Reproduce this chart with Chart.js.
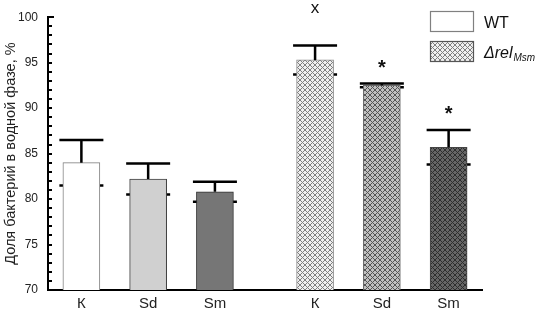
<!DOCTYPE html>
<html>
<head>
<meta charset="utf-8">
<script src="https://cdn.jsdelivr.net/npm/chart.js@4/dist/chart.umd.min.js"></script>
<style>
  html, body { margin: 0; padding: 0; background: #fff; }
  #wrap { width: 544px; height: 325px; }
</style>
</head>
<body>
<div id="wrap"><canvas id="c" width="544" height="325"></canvas></div>
<script>
// ---- data ----
const categories = ['К', 'Sd', 'Sm'];
const seriesNames = ['WT', 'ΔrelMsm'];
const wtValues = [84.0, 82.2, 80.8];
const wtErrors = [2.5, 1.7, 1.1];
const mutValues = [95.3, 92.5, 85.7];
const mutErrors = [1.6, 0.2, 1.9];
const mutMarks = ['x', '*', '*'];
const yTicks = [70, 75, 80, 85, 90, 95, 100];

// ---- layout helpers (slots on a category axis) ----
const SLOTS = 14;
const slotOf = (g, c) => 1 + c * 2 + g * 7;
const labels = new Array(SLOTS).fill('');
categories.forEach((c, i) => { labels[slotOf(0, i)] = c; labels[slotOf(1, i)] = c; });
function spread(g, arr) {
  const out = new Array(SLOTS).fill(null);
  arr.forEach((v, i) => { out[slotOf(g, i)] = v; });
  return out;
}

// ---- patterns ----
function hatch(bg, fg) {
  const s = 5;
  const cv = document.createElement('canvas');
  cv.width = s; cv.height = s;
  const x = cv.getContext('2d');
  x.fillStyle = bg; x.fillRect(0, 0, s, s);
  x.strokeStyle = fg; x.lineWidth = 1;
  x.beginPath();
  x.moveTo(0, 0); x.lineTo(s, s);
  x.moveTo(0, s); x.lineTo(s, 0);
  x.stroke();
  return x.createPattern(cv, 'repeat');
}
const ctx0 = document.getElementById('c').getContext('2d');
const wtFill = ['#ffffff', '#d0d0d0', '#767676'];
const wtBorder = ['#808080', '#404040', '#303030'];
const mutFill = [hatch('#f0f0f0', '#808080'), hatch('#c0c0c0', '#555555'), hatch('#666666', '#2e2e2e')];

function perSlot(g, arr) {
  const out = new Array(SLOTS).fill('rgba(0,0,0,0)');
  arr.forEach((v, i) => { out[slotOf(g, i)] = v; });
  return out;
}

const FONT = "'Liberation Sans', Arial, sans-serif";

// ---- plugins ----
const errorBars = {
  id: 'errorBars',
  drawPart(chart, upper) {
    const ctx = chart.ctx;
    const y = chart.scales.y;
    const sets = [[wtValues, wtErrors], [mutValues, mutErrors]];
    ctx.save();
    ctx.strokeStyle = '#000';
    ctx.lineWidth = 2.5;
    sets.forEach(([vals, errs], g) => {
      const meta = chart.getDatasetMeta(g);
      vals.forEach((v, i) => {
        const el = meta.data[slotOf(g, i)];
        if (!el) return;
        const x = el.x;
        const half = 22;
        if (upper) {
          const yt = y.getPixelForValue(v + errs[i]);
          const yb = y.getPixelForValue(v);
          ctx.beginPath();
          ctx.moveTo(x, yb); ctx.lineTo(x, yt);
          ctx.moveTo(x - half, yt); ctx.lineTo(x + half, yt);
          ctx.stroke();
        } else {
          const yl = y.getPixelForValue(v - errs[i]);
          ctx.beginPath();
          ctx.moveTo(x - half, yl); ctx.lineTo(x + half, yl);
          ctx.stroke();
        }
      });
    });
    ctx.restore();
  },
  beforeDatasetsDraw(chart) { this.drawPart(chart, false); },
  afterDatasetsDraw(chart) {
    this.drawPart(chart, true);
    // significance marks
    const ctx = chart.ctx;
    const y = chart.scales.y;
    const meta = chart.getDatasetMeta(1);
    ctx.save();
    ctx.fillStyle = '#111';
    ctx.textAlign = 'center';
    ctx.textBaseline = 'middle';
    mutMarks.forEach((m, i) => {
      const el = meta.data[slotOf(1, i)];
      const yt = y.getPixelForValue(mutValues[i] + mutErrors[i]);
      if (m === 'x') {
        ctx.font = '17px ' + FONT;
        ctx.fillText(m, el.x, yt - 37);
      } else {
        ctx.font = 'bold 20px ' + FONT;
        ctx.fillText(m, el.x, yt - 15);
      }
    });
    ctx.restore();
  }
};

const yMinorTicks = {
  id: 'yMinorTicks',
  afterDraw(chart) {
    const ctx = chart.ctx;
    const y = chart.scales.y;
    const left = chart.chartArea.left;
    ctx.save();
    ctx.strokeStyle = '#000';
    ctx.lineWidth = 2;
    for (let v = y.min; v <= y.max; v += 1) {
      const py = Math.round(y.getPixelForValue(v));
      ctx.beginPath();
      ctx.moveTo(left, py);
      ctx.lineTo(left + (v === y.max ? 6 : 4), py);
      ctx.stroke();
    }
    ctx.restore();
  }
};

const customLegend = {
  id: 'customLegend',
  afterDraw(chart) {
    const ctx = chart.ctx;
    ctx.save();
    ctx.fillStyle = '#fff';
    ctx.fillRect(430, 11, 44, 21);
    ctx.strokeStyle = '#808080';
    ctx.lineWidth = 1.2;
    ctx.strokeRect(430.5, 11.5, 43, 20);
    ctx.fillStyle = mutFill[0];
    ctx.fillRect(430, 41, 44, 21);
    ctx.strokeStyle = '#555';
    ctx.strokeRect(430.5, 41.5, 43, 20);
    ctx.fillStyle = '#111';
    ctx.textBaseline = 'alphabetic';
    ctx.textAlign = 'left';
    ctx.font = '16px ' + FONT;
    ctx.fillText(seriesNames[0], 484, 28);
    ctx.font = 'italic 16px ' + FONT;
    const main = seriesNames[1].slice(0, 4);
    const sub = seriesNames[1].slice(4);
    ctx.fillText(main, 484, 58);
    const w = ctx.measureText(main).width;
    ctx.font = 'italic 10px ' + FONT;
    ctx.fillText(sub, 484 + w + 1, 61);
    ctx.restore();
  }
};

new Chart(ctx0, {
  type: 'bar',
  data: {
    labels: labels,
    datasets: [
      {
        label: seriesNames[0],
        data: spread(0, wtValues),
        backgroundColor: perSlot(0, wtFill),
        borderColor: perSlot(0, wtBorder),
        borderWidth: 1,
      },
      {
        label: seriesNames[1],
        data: spread(1, mutValues),
        backgroundColor: perSlot(1, mutFill),
        borderColor: perSlot(1, ['#8a8a8a', '#6a6a6a', '#444444']),
        borderWidth: 1,
      }
    ]
  },
  options: {
    responsive: false,
    animation: false,
    devicePixelRatio: 1,
    layout: { padding: { top: 17, right: 62, left: 2, bottom: 0 } },
    datasets: { bar: { grouped: false, barThickness: 37 } },
    plugins: { legend: { display: false }, tooltip: { enabled: false } },
    scales: {
      x: {
        type: 'category',
        offset: false,
        grid: { display: false, drawTicks: false },
        border: { display: true, color: '#000', width: 2 },
        ticks: {
          autoSkip: false,
          maxRotation: 0,
          padding: 5,
          color: '#222',
          font: { family: FONT, size: 15 }
        },
        afterFit(s) { s.height = 35; }
      },
      y: {
        min: 70,
        max: 100,
        afterBuildTicks(s) { s.ticks = yTicks.map(v => ({ value: v })); },
        grid: { display: false, drawTicks: false },
        border: { display: true, color: '#000', width: 2 },
        ticks: {
          padding: 10,
          color: '#222',
          font: { family: FONT, size: 12 }
        },
        title: {
          display: true,
          text: 'Доля бактерий в водной фазе, %',
          color: '#222',
          font: { family: FONT, size: 14.5 },
          padding: { top: 0, bottom: 0 }
        },
        afterFit(s) { s.width = 46; }
      }
    }
  },
  plugins: [errorBars, yMinorTicks, customLegend]
});
</script>
</body>
</html>
